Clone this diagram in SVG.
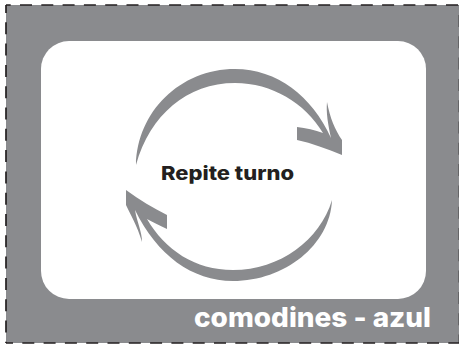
<svg xmlns="http://www.w3.org/2000/svg" width="459" height="346" viewBox="0 0 459 346">
  <style>
    .arrow{fill:#8a8b8e}
    .t{font-family:Inter,"Liberation Sans",sans-serif;font-weight:800}
    .dash{stroke:#231f20;stroke-width:1.7;stroke-dasharray:12 9.3;fill:none}
  </style>
  <rect width="459" height="346" fill="#fff"/>
  <g id="card">
    <rect x="6" y="5" width="453" height="338" fill="#8a8b8e"/>
    <path class="dash" d="M6,5H459" stroke-dashoffset="7.3"/>
    <path class="dash" d="M6,5V343" stroke-dashoffset="4"/>
    <path class="dash" d="M6,343H459" stroke-dashoffset="5"/>
    <path class="dash" d="M459.5,5V343" stroke-dashoffset="11.3"/>
    <rect x="41" y="41" width="385" height="258" rx="28" fill="#fff"/>
  </g>
  <g id="connectors">
    <path class="arrow" d="M136,165 C137,112 180,69 235,69 C277,69 312,96 331,138 C328,124 326,113 327,102 C330,118 335,130 342,140 L342,155 C327,149 312,143 297,140 L297,127 C306,128 315,130 323,133 C305,103 272,83 235,83 C187,83 150,115 136,165 Z"/>
    <path class="arrow" d="M332,200 C330,245 285,281 233,281 C192,281 157,255 135,210 C137,222 142,232 142,242 C137,225 131,216 126,205 L126,190 C140,200 153,208 167,215 L167,229 C160,226 153,222 147,219 C165,250 195,270 233,270 C280,270 320,240 332,200 Z"/>
  </g>
  <g id="label-center">
    <text class="t" x="161" y="180" font-size="19" fill="#231f20" textLength="133" lengthAdjust="spacingAndGlyphs">Repite turno</text>
  </g>
  <g id="label-corner">
    <text class="t" x="194" y="326.5" font-size="27" fill="#fff" textLength="237" lengthAdjust="spacingAndGlyphs">comodines - azul</text>
  </g>
</svg>
